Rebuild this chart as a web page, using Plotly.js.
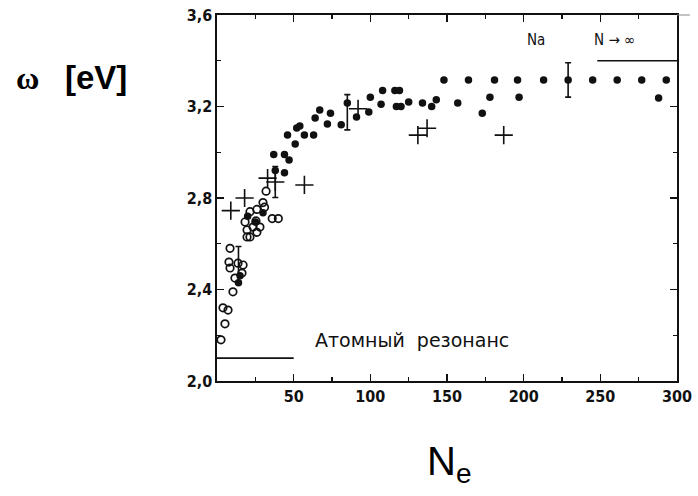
<!DOCTYPE html>
<html>
<head>
<meta charset="utf-8">
<script src="https://cdn.plot.ly/plotly-3.0.1.min.js"></script>
<style>html,body{margin:0;padding:0;background:#fff;}#chart{width:698px;height:496px;}</style>
</head>
<body>
<div id="chart"></div>
<script>
// Filled circles
const filledN = [148,164,181,196,213,229,245,261,277,293,
  197,288,178,173,100,108,116,119,107,117,120,125,134,140,143,157,
  99,91,85,74,67,64,72,81,54,52,46,57,63,51,37,44,47,44,38,20,14,15,25,30];
const filledW = [3.316,3.316,3.316,3.316,3.316,3.316,3.316,3.316,3.316,3.316,
  3.24,3.237,3.24,3.17,3.24,3.27,3.27,3.27,3.21,3.20,3.20,3.22,3.215,3.20,3.23,3.215,
  3.176,3.154,3.215,3.17,3.185,3.15,3.124,3.12,3.115,3.106,3.075,3.075,3.075,3.036,2.99,2.99,2.966,2.91,2.92,2.72,2.43,2.46,2.695,2.735];
// Open circles
const openN = [32,30,26,21.5,31,25.4,28,23.5,18.3,19.6,19.6,21.5,26,36,40,8.5,7.8,8.5,13.7,17,16.3,11.7,10.4,3.9,7.2,5.2,2.6];
const openW = [2.83,2.78,2.75,2.74,2.76,2.70,2.673,2.673,2.695,2.66,2.63,2.63,2.65,2.71,2.71,2.58,2.52,2.494,2.515,2.507,2.472,2.45,2.39,2.32,2.31,2.25,2.18];
// Crosses
const plusN = [92,137,131,187,33,38,57,18,9];
const plusW = [3.19,3.105,3.075,3.075,2.887,2.87,2.857,2.80,2.745];
// Error bars (centre, half-width)
const errN = [85,38,14,229];
const errW = [3.175,2.87,2.51,3.316];
const errD = [0.077,0.068,0.078,0.075];
// Reference lines
const atomN = [0,50], atomW = [2.10,2.10];
const bulkN = [248,300], bulkW = [3.40,3.40];
// Ticks
const xTickVals = [50,100,150,200,250,300];
const xTickText = ['50','100','150','200','250','300'];
const yTickVals = [2.0,2.4,2.8,3.2,3.6];
const yTickText = ['2,0','2,4','2,8','3,2','3,6'];

const ink = '#111';
const tickFont = {family:'DejaVu Sans Condensed, DejaVu Sans, sans-serif', size:16, color:ink, weight:'bold'};

const traces = [
  {x:atomN, y:atomW, mode:'lines', line:{color:ink, width:1.6}, hoverinfo:'skip'},
  {x:bulkN, y:bulkW, mode:'lines', line:{color:ink, width:1.6}, hoverinfo:'skip'},
  {x:errN, y:errW, mode:'markers', marker:{size:0.1, color:'rgba(0,0,0,0)'},
   error_y:{type:'data', array:errD, visible:true, color:ink, thickness:1.6, width:3}},
  {x:filledN, y:filledW, mode:'markers', marker:{symbol:'circle', size:7.5, color:ink}},
  {x:openN, y:openW, mode:'markers', marker:{symbol:'circle-open', size:7.5, color:ink, line:{width:1.7, color:ink}}},
  {x:plusN, y:plusW, mode:'markers', marker:{symbol:'cross-thin-open', size:13, color:ink, line:{width:1.6, color:ink}}}
];

const layout = {
  width:698, height:496,
  margin:{l:217, r:21, t:15, b:115},
  paper_bgcolor:'#fff', plot_bgcolor:'#fff',
  showlegend:false,
  xaxis:{range:[0,300], tickvals:xTickVals, ticktext:xTickText, ticks:'inside', ticklen:7, tickwidth:1.5, tickcolor:ink,
    showline:true, linewidth:1.6, linecolor:ink, mirror:'ticks', showgrid:false, zeroline:false, tickfont:tickFont,
    minor:{dtick:25, tick0:0, ticks:'inside', ticklen:4, tickwidth:1.2, tickcolor:ink, showgrid:false}},
  yaxis:{range:[2.0,3.6], tickvals:yTickVals, ticktext:yTickText, ticks:'inside', ticklen:7, tickwidth:1.5, tickcolor:ink,
    showline:true, linewidth:1.6, linecolor:ink, mirror:'ticks', showgrid:false, zeroline:false, tickfont:tickFont,
    minor:{dtick:0.2, tick0:2.0, ticks:'inside', ticklen:4, tickwidth:1.2, tickcolor:ink, showgrid:false}},
  shapes:[
    {type:'line', xref:'paper', yref:'paper', x0:1, x1:1.028, y0:1, y1:1, line:{color:'#888', width:1}}
  ],
  annotations:[
    {xref:'paper', yref:'paper', x:-0.411, y:0.828, text:'ω', showarrow:false, xanchor:'center', yanchor:'middle',
     font:{family:'Liberation Serif, serif', size:32, color:'#000', weight:'bold'}},
    {xref:'paper', yref:'paper', x:-0.262, y:0.828, text:'[eV]', showarrow:false, xanchor:'center', yanchor:'middle',
     font:{family:'Liberation Sans, Arial, sans-serif', size:33, color:'#000', weight:'bold'}},
    {xref:'paper', yref:'paper', x:0.505, y:-0.226, text:'N<sub>e</sub>', showarrow:false, xanchor:'center', yanchor:'middle',
     font:{family:'Liberation Sans, Arial, sans-serif', size:40, color:'#000'}},
    {xref:'x', yref:'y', x:127, y:2.18, text:'Атомный  резонанс', showarrow:false, xanchor:'center', yanchor:'middle',
     font:{family:'DejaVu Sans, sans-serif', size:19, color:ink}},
    {xref:'x', yref:'y', x:208, y:3.49, text:'Na', showarrow:false, xanchor:'center', yanchor:'middle',
     font:{family:'DejaVu Sans Condensed, DejaVu Sans, sans-serif', size:15, color:ink}},
    {xref:'x', yref:'y', x:259, y:3.49, text:'N → ∞', showarrow:false, xanchor:'center', yanchor:'middle',
     font:{family:'DejaVu Sans Condensed, DejaVu Sans, sans-serif', size:15, color:ink}}
  ]
};

Plotly.newPlot('chart', traces, layout, {staticPlot:true, displayModeBar:false});
</script>
</body>
</html>
